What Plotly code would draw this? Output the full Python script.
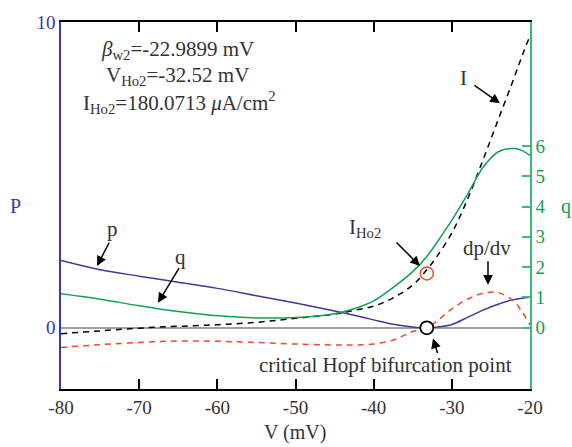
import plotly.graph_objects as go

# ---- data ----
V = [-80, -75, -70, -65, -60, -55, -50, -45, -42.5, -40, -37.5, -35, -33.2, -32, -30, -28, -26, -24, -22, -21, -20]
p_vals = [2.2, 1.9, 1.69, 1.49, 1.29, 1.05, 0.81, 0.55, 0.41, 0.26, 0.12, 0.03, 0.0, 0.02, 0.11, 0.34, 0.58, 0.78, 0.93, 0.97, 1.0]
q_vals = [1.12, 0.94, 0.72, 0.53, 0.39, 0.32, 0.33, 0.46, 0.62, 0.88, 1.33, 1.85, 2.35, 2.78, 3.55, 4.4, 5.3, 5.82, 5.92, 5.85, 5.69]
I_vals = [-0.19, -0.1, -0.01, 0.05, 0.1, 0.18, 0.31, 0.45, 0.57, 0.71, 0.98, 1.4, 1.9, 2.3, 3.1, 4.2, 5.5, 6.85, 8.2, 8.9, 9.55]
dpdv_vals = [-0.64, -0.55, -0.48, -0.43, -0.44, -0.48, -0.53, -0.56, -0.56, -0.53, -0.4, -0.12, 0.0, 0.2, 0.62, 0.93, 1.13, 1.15, 0.85, 0.52, 0.1]

hopf_V, hopf_p = [-33.2], [0.0]
iho2_V, iho2_I = [-33.2], [1.78]

x_ticks = [-80, -70, -60, -50, -40, -30, -20]
x_ticktext = ["-80", "-70", "-60", "-50", "-40", "-30", "-20"]
p_ticks = [0, 10]
q_ticks = [0, 1, 2, 3, 4, 5, 6]

BLUE = "#3d3a9c"
GREEN = "#14a050"
GREEN_AX = "#3cb878"
RED = "#f04a2a"
TXT = "#333333"
FONT = "Liberation Serif"
FS_TXT = 21
FS_TICK = 19

W, H = 572, 447
L, R, T, B = 61, 42, 19, 58
XR = [-80, -20]
YR = [-2.0, 10.0]
Y2R = [-2.03, 10.1]

def paper(x, y):
    return (x - L) / (W - L - R), 1 - (y - T) / (H - T - B)

def px(x, y):
    """pixel position -> data coordinates (for arrow tips)"""
    fx, fy = paper(x, y)
    return XR[0] + fx * (XR[1] - XR[0]), YR[0] + fy * (YR[1] - YR[0])

fig = go.Figure()
sm = 1.0
fig.add_trace(go.Scatter(x=V, y=q_vals, yaxis="y2", mode="lines",
                         line=dict(color=GREEN, width=1.5, shape="spline", smoothing=sm)))
fig.add_trace(go.Scatter(x=V, y=p_vals, mode="lines",
                         line=dict(color=BLUE, width=1.5, shape="spline", smoothing=sm)))
fig.add_trace(go.Scatter(x=V, y=I_vals, mode="lines",
                         line=dict(color="black", width=1.5, dash="6px,5px", shape="spline", smoothing=sm)))
fig.add_trace(go.Scatter(x=V, y=dpdv_vals, mode="lines",
                         line=dict(color=RED, width=1.5, dash="6px,5px", shape="spline", smoothing=sm)))
fig.add_trace(go.Scatter(x=iho2_V, y=iho2_I, mode="markers",
                         marker=dict(symbol="circle-open", size=13, color=RED, line=dict(width=1.5, color=RED))))
fig.add_trace(go.Scatter(x=hopf_V, y=hopf_p, mode="markers",
                         marker=dict(symbol="circle", size=13, color="white", line=dict(width=1.8, color="black"))))

ann = []

def text(x, y, s, color=TXT, size=FS_TXT):
    fx, fy = paper(x, y)
    ann.append(dict(x=fx, y=fy, xref="paper", yref="paper", text=s, showarrow=False,
                    xanchor="center", yanchor="middle",
                    font=dict(family=FONT, size=size, color=color)))

def arrow(x0, y0, x1, y1):
    vx, vy = px(x1, y1)
    ann.append(dict(x=vx, y=vy, text="", showarrow=True, ax=x0 - x1, ay=y0 - y1,
                    arrowhead=2, arrowsize=1.3, arrowwidth=1.5, arrowcolor="black"))

text(177, 47, "<i>β</i><sub>w2</sub>=-22.9899 mV")
text(177, 73, "V<sub>Ho2</sub>=-32.52 mV")
text(179, 100, "I<sub>Ho2</sub>=180.0713 <i>μ</i>A/cm<sup>2</sup>")
text(463, 75, "I")
arrow(473, 82, 500, 101)
text(365, 227, "I<sub>Ho2</sub>")
arrow(395, 240, 420, 265)
text(487, 247, "dp/dv")
arrow(488, 259, 488, 284)
text(385, 365, "critical Hopf bifurcation point")
arrow(438, 354, 433, 338)
text(112, 228, "p")
arrow(110, 240, 97, 265)
text(180, 256, "q")
arrow(180, 266, 158, 302)
text(15, 204, "P", color=BLUE, size=20)
text(566, 205, "q", color=GREEN, size=20)
text(295, 433, "V (mV)", size=20)

fig.update_layout(
    width=W, height=H,
    margin=dict(l=L, r=R, t=T, b=B),
    paper_bgcolor="white", plot_bgcolor="white",
    showlegend=False,
    annotations=ann,
    xaxis=dict(range=XR, tickvals=x_ticks, ticktext=x_ticktext, ticks="inside", ticklen=10,
               tickwidth=1.5, tickcolor="black", showline=True, linecolor="black", linewidth=1.5,
               mirror="ticks", showgrid=False, zeroline=False,
               tickfont=dict(family=FONT, size=FS_TICK, color=TXT)),
    yaxis=dict(range=YR, tickvals=p_ticks, ticks="", showline=True, linecolor=BLUE,
               linewidth=1.5, showgrid=False, zeroline=True, zerolinecolor="#a0a0a0",
               zerolinewidth=1.5, tickfont=dict(family=FONT, size=FS_TICK, color=BLUE)),
    yaxis2=dict(range=Y2R, overlaying="y", side="right", tickvals=q_ticks, ticks="inside",
                ticklen=8, tickwidth=1.5, tickcolor=GREEN_AX, showline=True, linecolor=GREEN_AX,
                linewidth=1.5, showgrid=False, zeroline=False,
                tickfont=dict(family=FONT, size=FS_TICK, color=GREEN)),
)

fig.write_html("out.html")
